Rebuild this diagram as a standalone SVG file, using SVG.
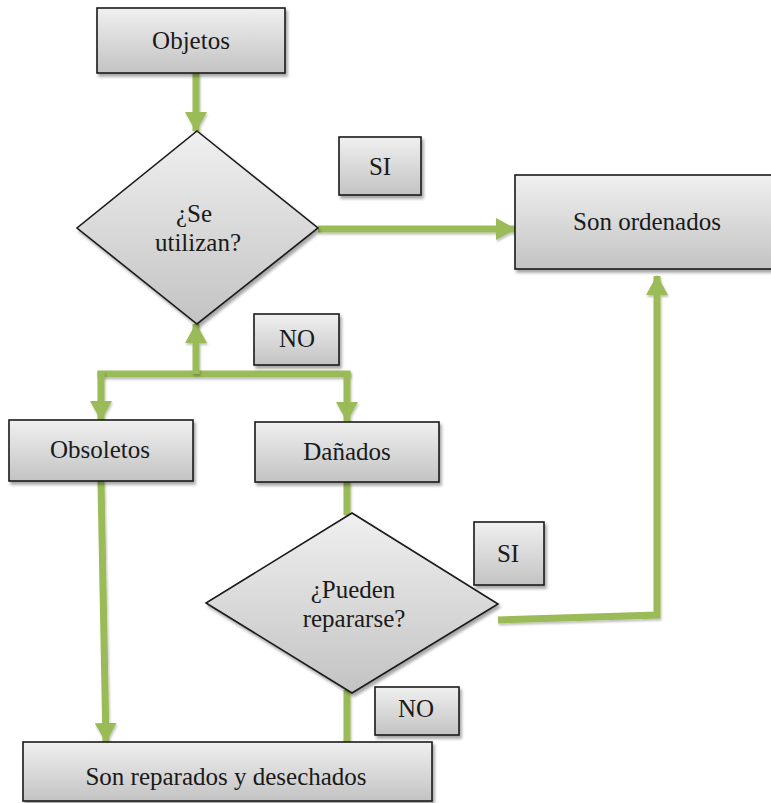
<svg xmlns="http://www.w3.org/2000/svg" width="771" height="803" viewBox="0 0 771 803">
<defs>
<linearGradient id="g" x1="0" y1="0" x2="0" y2="1">
<stop offset="0" stop-color="#f0f0f0"/>
<stop offset="1" stop-color="#c3c3c3"/>
</linearGradient>
<filter id="sh" x="-10%" y="-10%" width="130%" height="140%">
<feDropShadow dx="2" dy="3" stdDeviation="1.5" flood-color="#000" flood-opacity="0.35"/>
</filter>
<filter id="lsh" filterUnits="userSpaceOnUse" x="0" y="0" width="771" height="803">
<feDropShadow dx="1" dy="2" stdDeviation="1" flood-color="#000" flood-opacity="0.25"/>
</filter>
<marker id="ah" viewBox="0 0 20 22" refX="19" refY="11" markerWidth="20" markerHeight="22" markerUnits="userSpaceOnUse" orient="auto">
<path d="M0,0 L20,11 L0,22 z" fill="#9bbb59"/>
</marker>
</defs>
<style>
.box{fill:url(#g);stroke:#1a1a1a;stroke-width:1.6;filter:url(#sh)}
.t{font-family:"Liberation Serif","Times New Roman",serif;font-size:25px;fill:#1a1a1a;text-anchor:middle}
.c{fill:none;stroke:#9bbb59;stroke-width:7;filter:url(#lsh)}
.a{marker-end:url(#ah)}
</style>
<rect width="771" height="803" fill="#ffffff"/>
<g id="connectors">
<line class="c a" x1="196" y1="73" x2="196" y2="131"/>
<line class="c a" x1="318" y1="229" x2="515" y2="229"/>
<line class="c" x1="97.5" y1="374" x2="350.5" y2="374"/>
<line class="c a" x1="196" y1="374" x2="196" y2="324"/>
<line class="c a" x1="101" y1="371" x2="101" y2="420"/>
<line class="c a" x1="347" y1="371" x2="347" y2="421"/>
<line class="c a" x1="101" y1="481" x2="106" y2="742"/>
<line class="c" x1="347" y1="482" x2="347" y2="515"/>
<path class="c a" d="M498,620 L657,615 L657,276"/>
<line class="c" x1="347" y1="690" x2="347" y2="742"/>
</g>
<g id="objetos">
<rect class="box" x="97" y="8" width="188" height="65"/>
<text class="t" x="191" y="49">Objetos</text>
</g>
<g id="se-utilizan">
<polygon class="box" points="197,131 318,228 197,324 77,228"/>
<text class="t" x="194" y="222">¿Se</text>
<text class="t" x="198" y="251">utilizan?</text>
</g>
<g id="si-1">
<rect class="box" x="339" y="137" width="82" height="58"/>
<text class="t" x="380" y="175">SI</text>
</g>
<g id="son-ordenados">
<rect class="box" x="515" y="175" width="262" height="94"/>
<text class="t" x="647" y="230">Son ordenados</text>
</g>
<g id="no-1">
<rect class="box" x="254" y="314" width="85" height="51"/>
<text class="t" x="297" y="347">NO</text>
</g>
<g id="obsoletos">
<rect class="box" x="9" y="420" width="184" height="61"/>
<text class="t" x="100" y="458">Obsoletos</text>
</g>
<g id="danados">
<rect class="box" x="255" y="422" width="184" height="60"/>
<text class="t" x="347" y="460">Dañados</text>
</g>
<g id="pueden-repararse">
<polygon class="box" points="352,513 498,604 352,693 206,603"/>
<text class="t" x="353" y="598">¿Pueden</text>
<text class="t" x="354" y="627">repararse?</text>
</g>
<g id="si-2">
<rect class="box" x="474" y="522" width="70" height="63"/>
<text class="t" x="508" y="562">SI</text>
</g>
<g id="no-2">
<rect class="box" x="375" y="687" width="84" height="48"/>
<text class="t" x="416" y="717">NO</text>
</g>
<g id="son-reparados">
<rect class="box" x="23" y="742" width="409" height="59"/>
<text class="t" x="226" y="785">Son reparados y desechados</text>
</g>
</svg>
